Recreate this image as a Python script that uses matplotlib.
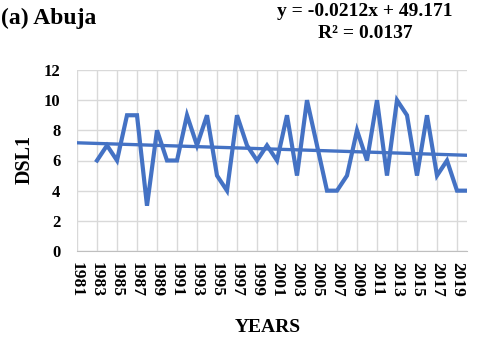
import numpy as np
import matplotlib
matplotlib.use("Agg")
import matplotlib.pyplot as plt

years = list(range(1983, 2021))
dsl1 = [6, 7, 6, 9, 9, 3, 8, 6, 6, 9, 7, 9, 5, 4, 9, 7, 6, 7,
        6, 9, 5, 10, 7, 4, 4, 5, 8, 6, 10, 5, 10, 9, 5, 9, 5, 6, 4, 4]
tick_years = list(range(1981, 2021, 2))

# trend line as written on the chart
slope = -0.0212
intercept = 49.171

plt.rcParams['font.family'] = ['Liberation Serif', 'DejaVu Serif']
plt.rcParams['font.weight'] = 'bold'

fig = plt.figure(figsize=(4.8, 3.43), dpi=100)
ax = fig.add_axes([77/480, 1-251/343, 390/480, 181/343])

ax.plot(years, dsl1, color='#4472C4', lw=3.0, solid_joinstyle='miter', zorder=3)
tx = np.array([1981, 2020])
ax.plot(tx, slope*tx + intercept, color='#4472C4', lw=2.4, zorder=3)

ax.set_xlim(1981, 2020)
ax.set_ylim(0, 12)
ax.set_yticks(range(0, 13, 2))
ax.set_xticks(tick_years)
ax.set_xticklabels([str(y) for y in tick_years], rotation=-90, fontsize=12.5, fontweight='bold')
ax.tick_params(axis='y', labelsize=12, pad=12)
ax.tick_params(axis='x', pad=8)
for lab in ax.get_yticklabels():
    lab.set_fontweight('bold')
ax.tick_params(length=0)
ax.grid(True, color='#d9d9d9', lw=1)
ax.set_axisbelow(True)
for s in ['top', 'right', 'left']:
    ax.spines[s].set_visible(False)
ax.spines['bottom'].set_color('#bfbfbf')

fig.text(25/480, 1-160/343, 'DSL1', ha='center', va='center', rotation=90, fontsize=14.5, fontweight='bold')
fig.text(268/480, 1-328/343, 'YEARS', ha='center', va='center', fontsize=14, fontweight='bold')
fig.text(1/480, 1-18/343, '(a) Abuja', ha='left', va='center', fontsize=17, fontweight='bold')
fig.text(365/480, 1-12/343, 'y = -0.0212x + 49.171', ha='center', va='center', fontsize=14, fontweight='bold')
fig.text(365/480, 1-33/343, 'R² = 0.0137', ha='center', va='center', fontsize=14, fontweight='bold')

fig.savefig('out.png', dpi=100)
